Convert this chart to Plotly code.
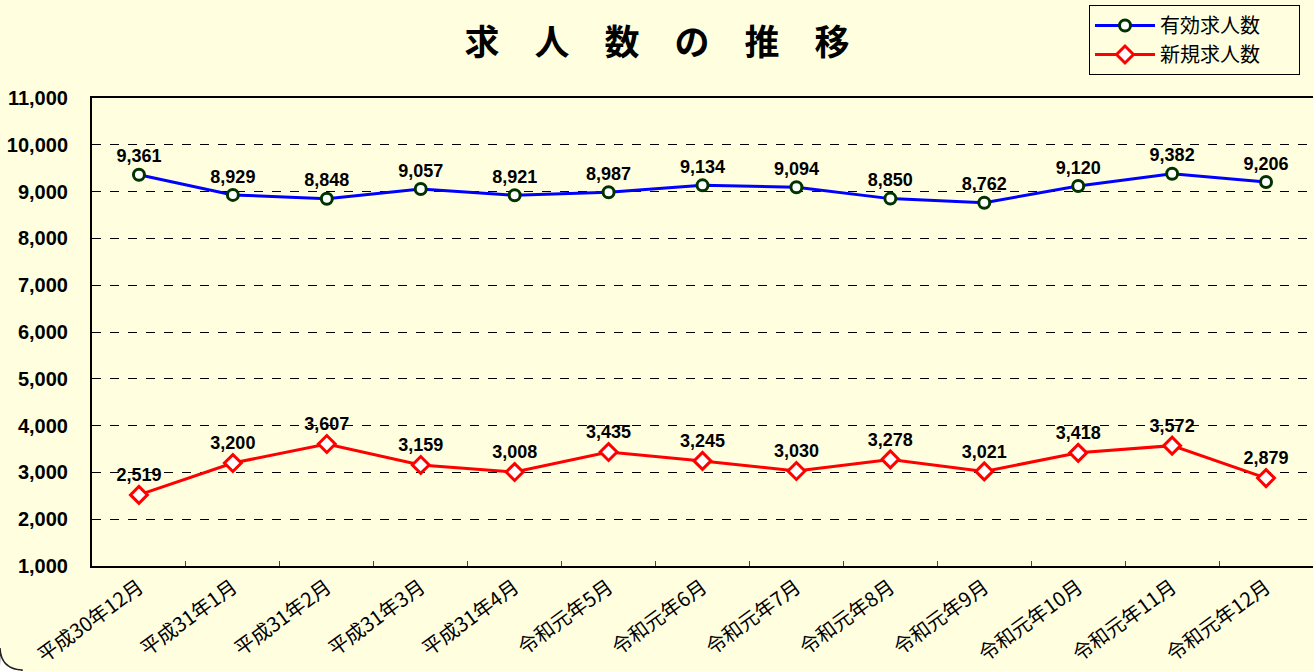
import plotly.graph_objects as go

categories = ["平成30年12月", "平成31年1月", "平成31年2月", "平成31年3月", "平成31年4月",
              "令和元年5月", "令和元年6月", "令和元年7月", "令和元年8月", "令和元年9月",
              "令和元年10月", "令和元年11月", "令和元年12月"]
yuko = [9361, 8929, 8848, 9057, 8921, 8987, 9134, 9094, 8850, 8762, 9120, 9382, 9206]
shinki = [2519, 3200, 3607, 3159, 3008, 3435, 3245, 3030, 3278, 3021, 3418, 3572, 2879]
y_ticks = list(range(1000, 11001, 1000))
y_tick_text = [f"{v:,}" for v in y_ticks]

BG = "#FFFFE0"
W, H = 1314, 671
L, R, T, B = 92, 1, 98, 105
pw, ph = W - L - R, H - T - B

def px2paper(x, y):
    return (x - L) / pw, (H - B - y) / ph

PAD = "\u3000\u00a0\u00a0\u00a0"

fig = go.Figure()
fig.add_trace(go.Scatter(
    x=categories, y=yuko, name="有効求人数" + PAD, mode="lines+markers+text",
    line=dict(color="#0000FF", width=3),
    marker=dict(symbol="circle", size=11, color="white", line=dict(color="#003300", width=3)),
    text=[f"{v:,}" for v in yuko], textposition="top center",
    textfont=dict(family="Liberation Sans, Arial, sans-serif", size=18, color="black", weight="bold"),
    cliponaxis=False,
))
fig.add_trace(go.Scatter(
    x=categories, y=shinki, name="新規求人数" + PAD, mode="lines+markers+text",
    line=dict(color="#FF0000", width=3),
    marker=dict(symbol="diamond", size=13, color="white", line=dict(color="#FF0000", width=3)),
    text=[f"{v:,}" for v in shinki], textposition="top center",
    textfont=dict(family="Liberation Sans, Arial, sans-serif", size=18, color="black", weight="bold"),
    cliponaxis=False,
))

# rounded corner of outer chart border (bottom-left)
a = px2paper(0, 648)
c = px2paper(1, 669)
e = px2paper(22, 670)
f = px2paper(22, 672)
g = px2paper(-1, 672)
fig.add_shape(type="path", xref="paper", yref="paper", layer="below",
              path=f"M {a[0]},{a[1]} Q {c[0]},{c[1]} {e[0]},{e[1]} L {f[0]},{f[1]} L {g[0]},{g[1]} Z",
              fillcolor="white", line=dict(color="#222222", width=1.5))

lx, ly = px2paper(1089, 5)
fig.update_layout(
    width=W, height=H,
    margin=dict(l=L, r=R, t=T, b=B, autoexpand=False),
    paper_bgcolor=BG, plot_bgcolor=BG,
    title=dict(text="求　人　数　の　推　移", x=0.5, xref="container", xanchor="center",
               y=1 - 43 / H, yanchor="middle",
               font=dict(family="Noto Sans CJK JP", size=35, color="black", weight="bold")),
    showlegend=True,
    legend=dict(x=lx, y=ly, xanchor="left", yanchor="top",
                bgcolor=BG, bordercolor="black", borderwidth=1,
                font=dict(family="Noto Sans CJK JP", size=20, color="black"),
                tracegroupgap=4, itemwidth=60),
    xaxis=dict(type="category", range=[-0.5, 12.5], showgrid=False, automargin=False,
               showline=True, linecolor="black", linewidth=2, mirror=True,
               ticks="inside", tickson="boundaries", ticklen=5, tickcolor="#444", tickwidth=1,
               tickangle=-36,
               tickfont=dict(family="Noto Sans CJK JP", size=20, color="black")),
    yaxis=dict(range=[1000, 11000], tickvals=y_ticks, ticktext=y_tick_text, automargin=False,
               showgrid=True, gridcolor="black", gridwidth=1, griddash="dash",
               showline=True, linecolor="black", linewidth=2, mirror=False,
               ticks="", ticklabelstandoff=18, zeroline=False,
               tickfont=dict(family="Liberation Sans, Arial, sans-serif", size=20, color="black", weight="bold")),
    font=dict(family="Noto Sans CJK JP"),
)

fig.write_html("out.html", config={"displayModeBar": False},
               post_script="document.body.style.margin='0';document.body.style.overflow='hidden';")
